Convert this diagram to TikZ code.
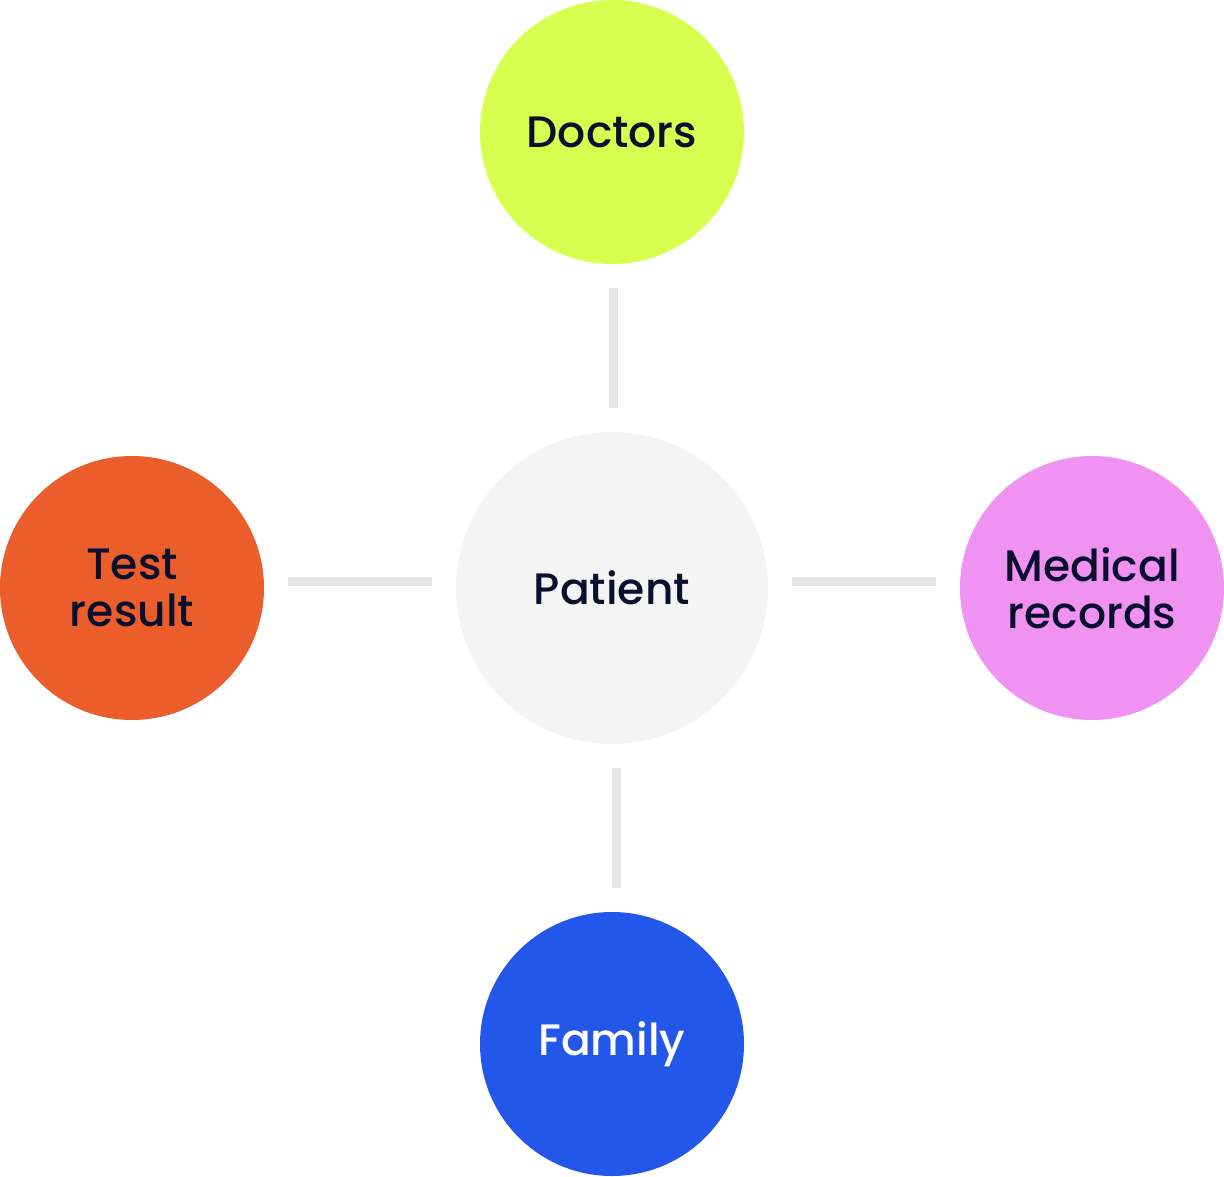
\documentclass[tikz,border=0pt]{standalone}
\usepackage{fontspec}
\setmainfont{Poppins}[UprightFont={* Medium}]
\definecolor{lime}{HTML}{D8FF4F}
\definecolor{pale}{HTML}{F4F4F4}
\definecolor{orng}{HTML}{EB5E2C}
\definecolor{pink}{HTML}{F092F2}
\definecolor{blu}{HTML}{2357EA}
\definecolor{ink}{HTML}{0B0F2E}
\definecolor{lin}{HTML}{E5E5E5}
\tikzset{
  bub/.style={circle, inner sep=0pt, minimum size=264pt, text=ink, align=center,
    font=\fontsize{44}{47}\selectfont},
  big/.style={bub, minimum size=312pt},
  link/.style={draw=lin, line width=9pt, shorten >=24pt, shorten <=24pt}
}
\begin{document}
\begin{tikzpicture}[x=1pt,y=-1pt]
\useasboundingbox (0,0) rectangle (1224,1176);
\node[big, fill=pale] (pat) at (612,588) {Patient};
\node[bub, fill=lime] (doc) at (612,132) {Doctors};
\node[bub, fill=orng] (test) at (132,588) {Test\\result};
\node[bub, fill=pink] (med) at (1092,588) {Medical\\records};
\node[bub, fill=blu, text=white] (fam) at (612,1044) {Family};
\draw[link] ([xshift=1pt]doc.south) -- ([xshift=1pt]pat.north);
\draw[link] ([yshift=7pt]test.east) -- ([yshift=7pt]pat.west);
\draw[link] ([yshift=7pt]pat.east) -- ([yshift=7pt]med.west);
\draw[link] ([xshift=4pt]pat.south) -- ([xshift=4pt]fam.north);
\end{tikzpicture}
\end{document}
